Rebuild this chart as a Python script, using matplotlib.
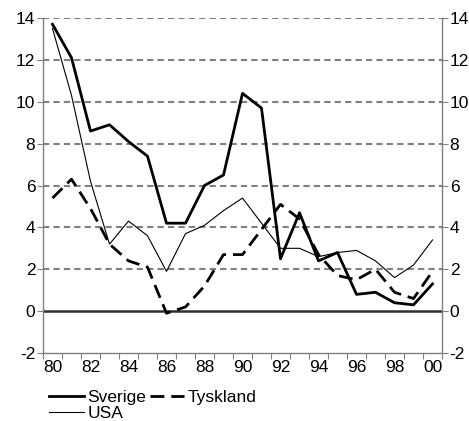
import numpy as np
import matplotlib
matplotlib.use("Agg")
import matplotlib.pyplot as plt

plt.rcParams['font.family'] = ['Liberation Sans', 'DejaVu Sans']
plt.rcParams['axes.unicode_minus'] = False

# data
years = list(range(1980, 2001))
year_labels = ["80", "82", "84", "86", "88", "90", "92", "94", "96", "98", "00"]
sverige = [13.7, 12.1, 8.6, 8.9, 8.1, 7.4, 4.2, 4.2, 6.0, 6.5, 10.4, 9.7,
           2.5, 4.7, 2.4, 2.8, 0.8, 0.9, 0.4, 0.3, 1.3]
tyskland = [5.4, 6.3, 4.9, 3.2, 2.4, 2.1, -0.1, 0.2, 1.2, 2.7, 2.7, 3.9,
            5.1, 4.4, 2.7, 1.7, 1.5, 2.0, 0.9, 0.6, 1.9]
usa = [13.5, 10.3, 6.2, 3.2, 4.3, 3.6, 1.9, 3.7, 4.1, 4.8, 5.4, 4.2,
       3.0, 3.0, 2.6, 2.8, 2.9, 2.4, 1.6, 2.2, 3.4]

x = np.arange(len(years))
grey = '#808080'
fs = 12.5

fig = plt.figure(figsize=(4.69, 4.21), dpi=100)
ax = fig.add_axes([43 / 469, 1 - 353 / 421, 399 / 469, 335 / 421])

# grid
for v in range(2, 16, 2):
    ax.axhline(v, color=grey, linestyle=(0, (3, 2)), linewidth=1.5, zorder=1)
ax.axhline(0, color='#303030', linewidth=1.8, zorder=1)

ax.plot(x, sverige, color='black', linewidth=2.0, label='Sverige', zorder=3)
ax.plot(x, usa, color='black', linewidth=0.8, label='USA', zorder=3)
ax.plot(x, tyskland, color='black', linewidth=2.0, linestyle=(0, (5, 2.5)),
        label='Tyskland', zorder=3)

ax.set_xlim(-0.5, len(years) - 0.5)
ax.set_ylim(-2, 14)

# category axis: ticks between categories, labels every second year
ax.set_xticks(np.arange(-0.5, len(years), 1.0))
ax.set_xticks(x[::2], minor=True)
ax.set_xticklabels([])
ax.set_xticklabels(year_labels, minor=True)
ax.tick_params(axis='x', which='major', length=4, color=grey, direction='out')
ax.tick_params(axis='x', which='minor', length=0, labelsize=fs, pad=5)

ax.set_yticks(range(-2, 16, 2))
ax.tick_params(axis='y', which='major', length=4, color=grey, labelsize=fs,
               left=True, right=True, labelleft=True, labelright=True, pad=1.5)

ax.spines['top'].set_visible(False)
for s in ['left', 'right', 'bottom']:
    ax.spines[s].set_color(grey)
    ax.spines[s].set_linewidth(1.0)

ax.legend(ncol=2, loc='upper left', bbox_to_anchor=(0.015, -0.11),
          frameon=False, fontsize=fs, handlelength=2.0, handletextpad=0.2,
          columnspacing=0.2, labelspacing=0.05, borderaxespad=0,
          borderpad=0)

fig.savefig('out.png', dpi=100)
